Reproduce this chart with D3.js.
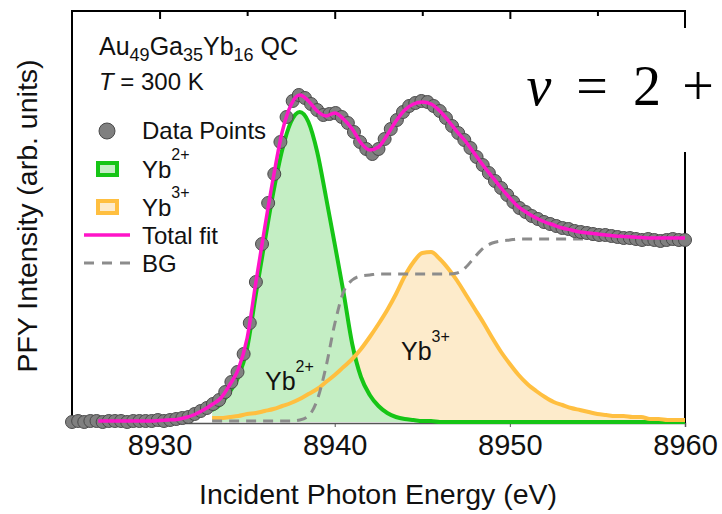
<!DOCTYPE html>
<html>
<head>
<meta charset="utf-8">
<script src="https://cdn.jsdelivr.net/npm/d3@7"></script>
<style>
    body { margin: 0; background: #fff; }
    svg { display: block; font-family: 'Liberation Sans', Arial, sans-serif; }
</style>
</head>
<body>
<div class="container"></div>
<script>
const width = 722,
    height = 514;

// measured scan (eV) and PFY intensity (arb. units)
const scanEnergy = [
    8925.00, 8925.35, 8925.70, 8926.05, 8926.40, 8926.75, 8927.10, 8927.45, 8927.80, 8928.15,
    8928.50, 8928.85, 8929.20, 8929.55, 8929.90, 8930.25, 8930.60, 8930.95, 8931.30, 8931.65,
    8932.00, 8932.35, 8932.70, 8933.05, 8933.40, 8933.75, 8934.10, 8934.45, 8934.80, 8935.15,
    8935.50, 8935.85, 8936.20, 8936.55, 8936.90, 8937.25, 8937.60, 8937.95, 8938.30, 8938.65,
    8939.00, 8939.35, 8939.70, 8940.05, 8940.40, 8940.75, 8941.10, 8941.45, 8941.80, 8942.15,
    8942.50, 8942.85, 8943.20, 8943.55, 8943.90, 8944.25, 8944.60, 8944.95, 8945.30, 8945.65,
    8946.00, 8946.35, 8946.70, 8947.05, 8947.40, 8947.75, 8948.10, 8948.45, 8948.80, 8949.15,
    8949.50, 8949.85, 8950.20, 8950.55, 8950.90, 8951.25, 8951.60, 8951.95, 8952.30, 8952.65,
    8953.00, 8953.35, 8953.70, 8954.05, 8954.40, 8954.75, 8955.10, 8955.45, 8955.80, 8956.15,
    8956.50, 8956.85, 8957.20, 8957.55, 8957.90, 8958.25, 8958.60, 8958.95, 8959.30, 8959.65,
    8960.00
];
const scanIntensity = [
    0, 1, 0, 1, 1, 0, 1, 1, 1, 0,
    1, 1, 1, 1, 2, 1, 2, 3, 4, 5,
    8, 11, 14, 18, 22, 30, 40, 50, 68, 99,
    140, 178, 219, 248, 280, 305, 321, 327, 324, 318,
    312, 307, 308, 309, 305, 299, 290, 280, 273, 268,
    273, 283, 293, 302, 310, 316, 319, 321, 320, 316,
    311, 304, 296, 289, 282, 274, 265, 257, 249, 241,
    234, 227, 220, 214, 210, 206, 203, 200, 198, 196,
    194, 193, 191, 190, 189, 188, 187, 187, 186, 185,
    184, 184, 183, 182, 183, 182, 181, 182, 183, 182,
    182
];

// total fit
const fitEnergy = [
    8926.5, 8927, 8927.5, 8928, 8928.5, 8929, 8929.5, 8930, 8930.5, 8931,
    8931.5, 8932, 8932.5, 8933, 8933.5, 8934, 8934.5, 8935, 8935.5, 8936,
    8936.5, 8937, 8937.5, 8938, 8938.5, 8939, 8939.5, 8940, 8940.5, 8941,
    8941.5, 8942, 8942.5, 8943, 8943.5, 8944, 8944.5, 8945, 8945.5, 8946,
    8946.5, 8947, 8947.5, 8948, 8948.5, 8949, 8949.5, 8950, 8950.5, 8951,
    8951.5, 8952, 8952.5, 8953, 8953.5, 8954, 8954.5, 8955, 8955.5, 8956,
    8956.5, 8957, 8957.5, 8958, 8958.5, 8959, 8959.5, 8960
];
const totalFit = [
    1, 1, 1, 1, 1, 1, 1, 1.5, 2, 2.5,
    4.5, 7.5, 12, 17.5, 24, 37, 53, 84, 140, 194,
    245, 290, 317, 327, 321, 311, 306, 309, 303, 293,
    279, 272, 275, 287, 301, 312, 318, 320, 318, 311,
    301, 290, 280, 268, 256, 245, 234, 224, 215, 209,
    204, 200, 197, 194, 192, 190, 189, 188, 187, 186,
    185.5, 185, 184.5, 184, 184, 184, 184, 184
];

// fit components
const compEnergy = [
    8933, 8933.5, 8934, 8934.5, 8935, 8935.5, 8936, 8936.5, 8937, 8937.5,
    8938, 8938.5, 8939, 8939.5, 8940, 8940.5, 8941, 8941.5, 8942, 8942.5,
    8943, 8943.5, 8944, 8944.5, 8945, 8945.5, 8946, 8946.5, 8947, 8947.5,
    8948, 8948.5, 8949, 8949.5, 8950, 8950.5, 8951, 8951.5, 8952, 8952.5,
    8953, 8953.5, 8954, 8954.5, 8955, 8955.5, 8956, 8956.5, 8957, 8957.5,
    8958, 8958.5, 8959, 8959.5, 8960
];
const yb2 = [
    12, 18, 30, 45, 74, 128, 180, 230, 272, 300,
    310, 300, 270, 225, 178, 130, 78, 45, 27, 16,
    9, 5, 3, 2, 1, 1, 0, 0, 0, 0,
    0, 0, 0, 0, 0, 0, 0, 0, 0, 0,
    0, 0, 0, 0, 0, 0, 0, 0, 0, 0,
    0, 0, 0, 0, 0
];
const yb3 = [
    4, 4, 5, 6, 8, 9, 11, 13, 16, 19,
    23, 28, 33, 40, 47, 55, 63, 73, 85, 98,
    112, 128, 146, 160, 169, 170, 163, 153, 141, 127,
    113, 99, 84, 70, 58, 47, 38, 31, 25, 20,
    17, 14, 12, 10, 8, 7, 6, 6, 5, 5,
    3, 3, 2, 2, 2
];
const background = [
    1, 1, 1, 1, 1, 1, 1, 1, 1, 1,
    2, 6, 22, 55, 98, 130, 142, 146, 147, 148,
    148, 148, 148, 148, 148, 148, 148, 148, 149, 155,
    165, 174, 179, 181, 182, 183, 183, 183, 183, 183,
    183, 183, 183, 183, 183, 183, 183, 183, 183, 183,
    183, 183, 183, 183, 183
];

const xTicks = [8930, 8940, 8950, 8960];
const xMinorTicks = [8935, 8945, 8955];

const colors = {
    data: '#808080',
    fit: '#ff14c8',
    yb2: '#16c516',
    yb2Fill: '#c4eec4',
    yb3: '#ffbf40',
    yb3Fill: '#fdebcb',
    bg: '#8c8c8c'
};

const plot = { left: 72, right: 685, top: 11, bottom: 423 };

const x = d3.scaleLinear().domain([8925, 8960]).range([plot.left, plot.right]);
const y = d3.scaleLinear().domain([0, 411]).range([422, plot.top]);

const svg = d3.select('.container')
    .append('svg')
    .attr('width', width)
    .attr('height', height);

const comps = compEnergy.map((e, i) => ({ e, yb2: yb2[i], yb3: yb3[i], bg: background[i] }));

const area = key => d3.area()
    .x(d => x(d.e))
    .y0(y(0))
    .y1(d => y(d[key]))
    .curve(d3.curveMonotoneX);

const line = key => d3.line()
    .x(d => x(d.e))
    .y(d => y(d[key]))
    .curve(d3.curveMonotoneX);

// fills
svg.append('path').datum(comps).attr('d', area('yb3')).attr('fill', colors.yb3Fill);
svg.append('path').datum(comps).attr('d', area('yb2')).attr('fill', colors.yb2Fill);

// frame + axes
svg.append('g')
    .attr('transform', `translate(0,${plot.bottom})`)
    .call(d3.axisBottom(x).tickValues(xTicks).tickSize(4).tickFormat(d3.format('d')))
    .call(g => g.select('.domain').attr('stroke', '#555').attr('stroke-width', 1.5))
    .call(g => g.selectAll('.tick line').attr('stroke', '#555'))
    .call(g => g.selectAll('.tick text')
        .attr('y', 11)
        .attr('font-size', 29)
        .attr('font-family', "'Liberation Sans', Arial, sans-serif")
        .attr('fill', '#111'));

svg.append('g')
    .attr('transform', `translate(0,${plot.top})`)
    .call(d3.axisBottom(x).tickValues(xTicks.slice(0, 3)).tickSize(8).tickFormat(''))
    .call(g => g.select('.domain').remove())
    .call(g => g.selectAll('.tick line').attr('stroke', '#000').attr('stroke-width', 2));

svg.append('g')
    .attr('transform', `translate(0,${plot.top})`)
    .call(d3.axisBottom(x).tickValues(xMinorTicks).tickSize(5).tickFormat(''))
    .call(g => g.select('.domain').remove())
    .call(g => g.selectAll('.tick line').attr('stroke', '#000').attr('stroke-width', 2));

svg.append('path')
    .attr('d', `M${plot.left},${plot.bottom}V${plot.top}H${plot.right}V${plot.bottom}`)
    .attr('fill', 'none')
    .attr('stroke', '#000')
    .attr('stroke-width', 2);

// component lines
svg.append('path').datum(comps).attr('d', line('yb2'))
    .attr('fill', 'none').attr('stroke', colors.yb2).attr('stroke-width', 4);
svg.append('path').datum(comps).attr('d', line('yb3'))
    .attr('fill', 'none').attr('stroke', colors.yb3).attr('stroke-width', 4);
svg.append('path').datum(comps).attr('d', line('bg'))
    .attr('fill', 'none').attr('stroke', colors.bg).attr('stroke-width', 3)
    .attr('stroke-dasharray', '10,7');

// data points
svg.append('g')
    .selectAll('circle')
    .data(scanEnergy.map((e, i) => ({ e, v: scanIntensity[i] })))
    .enter()
    .append('circle')
    .attr('cx', d => x(d.e))
    .attr('cy', d => y(d.v))
    .attr('r', 6.5)
    .attr('fill', colors.data)
    .attr('stroke', '#4a4a4a')
    .attr('stroke-width', 1);

// total fit
svg.append('path')
    .datum(fitEnergy.map((e, i) => ({ e, v: totalFit[i] })))
    .attr('d', line('v'))
    .attr('fill', 'none')
    .attr('stroke', colors.fit)
    .attr('stroke-width', 3.5);

// pasted valence label box
svg.append('rect')
    .attr('x', 505).attr('y', 28)
    .attr('width', 217).attr('height', 124)
    .attr('fill', '#fff');

const nu = svg.append('g')
    .attr('font-family', "'Liberation Serif', 'DejaVu Serif', serif")
    .attr('font-size', 56)
    .attr('fill', '#000')
    .attr('text-anchor', 'middle');
nu.append('text').attr('x', 539).attr('y', 105).attr('font-style', 'italic').text('ν');
nu.append('text').attr('x', 592).attr('y', 105).text('=');
nu.append('text').attr('x', 647).attr('y', 105).text('2');
nu.append('text').attr('x', 698).attr('y', 105).text('+');

// sample text
const title = svg.append('text')
    .attr('x', 99).attr('y', 55)
    .attr('font-size', 25)
    .attr('fill', '#111');
[['Au', 0], ['49', 1], ['Ga', 0], ['35', 1], ['Yb', 0], ['16', 1], [' QC', 0]].forEach(([t, sub], i, arr) => {
    const prev = i > 0 ? arr[i - 1][1] : 0;
    title.append('tspan')
        .attr('dy', sub === prev ? 0 : (sub ? 6 : -6))
        .attr('font-size', sub ? 18 : 25)
        .text(t);
});

const temp = svg.append('text')
    .attr('x', 99).attr('y', 90)
    .attr('font-size', 24)
    .attr('fill', '#111');
temp.append('tspan').attr('font-style', 'italic').text('T');
temp.append('tspan').text(' = 300 K');

// legend
const legend = svg.append('g').attr('font-size', 24).attr('fill', '#111');

legend.append('circle')
    .attr('cx', 107).attr('cy', 131).attr('r', 8)
    .attr('fill', colors.data).attr('stroke', '#4a4a4a');
legend.append('text').attr('x', 142).attr('y', 139).text('Data Points');

legend.append('rect')
    .attr('x', 98).attr('y', 163).attr('width', 19).attr('height', 12)
    .attr('fill', colors.yb2Fill).attr('stroke', colors.yb2).attr('stroke-width', 4);
const l2 = legend.append('text').attr('x', 142).attr('y', 178);
l2.append('tspan').text('Yb');
l2.append('tspan').attr('dy', -18).attr('font-size', 16).text('2+');

legend.append('rect')
    .attr('x', 98).attr('y', 201).attr('width', 19).attr('height', 12)
    .attr('fill', colors.yb3Fill).attr('stroke', colors.yb3).attr('stroke-width', 4);
const l3 = legend.append('text').attr('x', 142).attr('y', 216);
l3.append('tspan').text('Yb');
l3.append('tspan').attr('dy', -18).attr('font-size', 16).text('3+');

legend.append('line')
    .attr('x1', 84).attr('x2', 130).attr('y1', 235).attr('y2', 235)
    .attr('stroke', colors.fit).attr('stroke-width', 3.5);
legend.append('text').attr('x', 142).attr('y', 244).text('Total fit');

legend.append('line')
    .attr('x1', 84).attr('x2', 130).attr('y1', 263).attr('y2', 263)
    .attr('stroke', colors.bg).attr('stroke-width', 3).attr('stroke-dasharray', '10,8');
legend.append('text').attr('x', 142).attr('y', 272).text('BG');

// peak labels
const p2 = svg.append('text').attr('x', 265).attr('y', 390).attr('font-size', 25).attr('fill', '#111');
p2.append('tspan').text('Yb');
p2.append('tspan').attr('dy', -18).attr('font-size', 16).text('2+');

const p3 = svg.append('text').attr('x', 401).attr('y', 360).attr('font-size', 25).attr('fill', '#111');
p3.append('tspan').text('Yb');
p3.append('tspan').attr('dy', -18).attr('font-size', 16).text('3+');

// axis titles
svg.append('text')
    .attr('x', 378).attr('y', 504)
    .attr('text-anchor', 'middle')
    .attr('font-size', 28.5)
    .attr('fill', '#111')
    .text('Incident Photon Energy (eV)');

svg.append('text')
    .attr('transform', 'translate(37,216) rotate(-90)')
    .attr('text-anchor', 'middle')
    .attr('font-size', 28.5)
    .attr('fill', '#111')
    .text('PFY Intensity (arb. units)');
</script>
</body>
</html>
